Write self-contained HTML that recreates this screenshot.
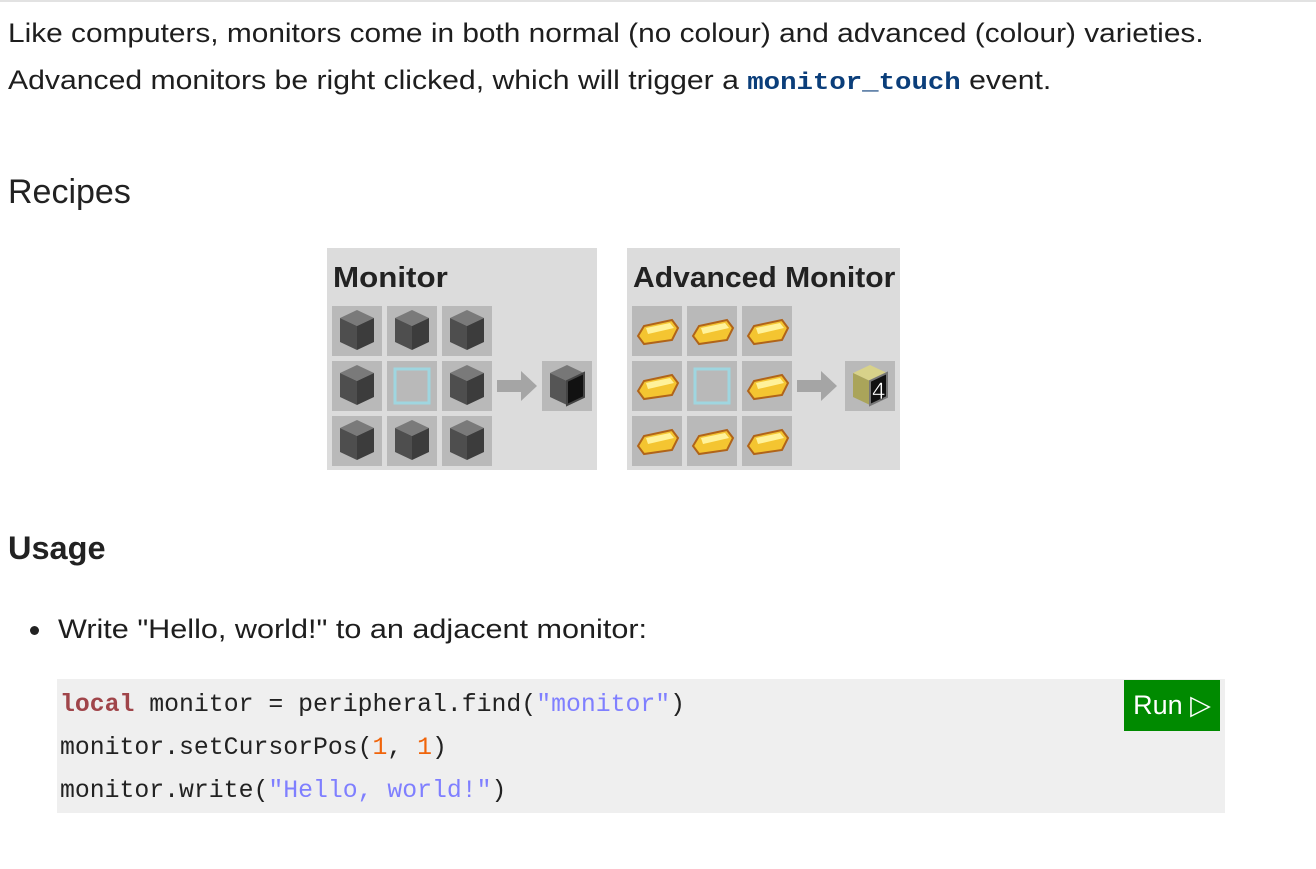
<!DOCTYPE html>
<html><head><meta charset="utf-8"><style>
body{margin:0;width:1316px;height:869px;background:#fff;position:relative;overflow:hidden;font-family:"Liberation Sans",sans-serif;color:#1e1e1e}
.a{position:absolute;white-space:nowrap}
.p{font-size:27px;transform-origin:0 0}
code{font-family:"Liberation Mono",monospace;font-weight:bold;color:#0b3e7a;font-size:24.5px}
.panel{position:absolute;background:#dcdcdc;height:222px;top:248px}
.t{position:absolute;font-weight:bold;font-size:29px;color:#222;top:262px;transform-origin:0 0;transform:scaleX(1.05);white-space:nowrap}
.code{position:absolute;left:57px;top:679px;width:1168px;height:134px;background:#efefef}
.cl{position:absolute;left:3px;font-family:"Liberation Mono",monospace;font-size:24.8px;color:#222;white-space:nowrap}
</style></head><body>
<div class="a" style="left:0;top:0;width:1316px;height:2px;background:#e2e2e2"></div>
<div class="a p" style="left:8px;top:18px;transform:scaleX(1.105)">Like computers, monitors come in both normal (no colour) and advanced (colour) varieties.</div>
<div class="a p" style="left:8px;top:65px;transform:scaleX(1.117)">Advanced monitors be right clicked, which will trigger a <code>monitor_touch</code> event.</div>
<div class="a" style="left:8px;top:173px;font-size:34px;color:#222">Recipes</div>

<div class="panel" style="left:327px;width:270px"></div>
<div class="panel" style="left:627px;width:273px"></div>
<div class="t" style="left:333px;transform:scaleX(1.08)">Monitor</div>
<div class="t" style="left:633px;transform:scaleX(1.037)">Advanced Monitor</div>

<svg class="a" style="left:0;top:0" width="1316" height="869">
<defs>
<g id="stone"><polygon points="25,4 42,12 25,20 8,12" fill="#7a7a7a"/><polygon points="8,12 25,20 25,44 8,36" fill="#4e4e4e"/><polygon points="25,20 42,12 42,36 25,44" fill="#3c3c3c"/></g>
<g id="gold"><polygon points="6,30 12,20 40,14 46,22 40,34 12,38" fill="#f4c531" stroke="#b0641a" stroke-width="2"/><polygon points="14,22 38,17 42,22 16,28" fill="#fff29a"/></g>
<g id="glass"><rect x="8" y="8" width="34" height="34" fill="none" stroke="#9fd6e0" stroke-width="3"/></g>
<g id="arr"><rect x="0" y="19" width="26" height="12" fill="#a5a5a5"/><polygon points="24,10 40,25 24,40" fill="#a5a5a5"/></g>
</defs>
<g fill="#b9b9b9">
<rect x="332" y="306" width="50" height="50"/><rect x="387" y="306" width="50" height="50"/><rect x="442" y="306" width="50" height="50"/>
<rect x="332" y="361" width="50" height="50"/><rect x="387" y="361" width="50" height="50"/><rect x="442" y="361" width="50" height="50"/>
<rect x="332" y="416" width="50" height="50"/><rect x="387" y="416" width="50" height="50"/><rect x="442" y="416" width="50" height="50"/>
<rect x="542" y="361" width="50" height="50"/>
<rect x="632" y="306" width="50" height="50"/><rect x="687" y="306" width="50" height="50"/><rect x="742" y="306" width="50" height="50"/>
<rect x="632" y="361" width="50" height="50"/><rect x="687" y="361" width="50" height="50"/><rect x="742" y="361" width="50" height="50"/>
<rect x="632" y="416" width="50" height="50"/><rect x="687" y="416" width="50" height="50"/><rect x="742" y="416" width="50" height="50"/>
<rect x="845" y="361" width="50" height="50"/>
</g>
<use href="#stone" x="332" y="306"/><use href="#stone" x="387" y="306"/><use href="#stone" x="442" y="306"/>
<use href="#stone" x="332" y="361"/><use href="#glass" x="387" y="361"/><use href="#stone" x="442" y="361"/>
<use href="#stone" x="332" y="416"/><use href="#stone" x="387" y="416"/><use href="#stone" x="442" y="416"/>
<use href="#arr" x="497" y="361"/>
<g transform="translate(542,361)"><polygon points="25,4 42,12 25,20 8,12" fill="#777"/><polygon points="8,12 25,20 25,44 8,36" fill="#555"/><polygon points="25,20 42,12 42,36 25,44" fill="#111" stroke="#444" stroke-width="2"/></g>
<use href="#gold" x="632" y="306"/><use href="#gold" x="687" y="306"/><use href="#gold" x="742" y="306"/>
<use href="#gold" x="632" y="361"/><use href="#glass" x="687" y="361"/><use href="#gold" x="742" y="361"/>
<use href="#gold" x="632" y="416"/><use href="#gold" x="687" y="416"/><use href="#gold" x="742" y="416"/>
<use href="#arr" x="797" y="361"/>
<g transform="translate(845,361)"><polygon points="25,4 42,12 25,20 8,12" fill="#d8d28a"/><polygon points="8,12 25,20 25,44 8,36" fill="#aaa45a"/><polygon points="25,20 42,12 42,36 25,44" fill="#111" stroke="#777" stroke-width="2"/>
<text x="27" y="38" font-family="Liberation Sans,sans-serif" font-size="24" fill="#fff" stroke="#000" stroke-width="0.5">4</text></g>
</svg>

<div class="a" style="left:8px;top:530px;font-size:32.5px;font-weight:bold;color:#222">Usage</div>
<div class="a" style="left:30px;top:626px;width:9px;height:9px;border-radius:50%;background:#222"></div>
<div class="a p" style="left:58px;top:614px;transform:scaleX(1.133)">Write "Hello, world!" to an adjacent monitor:</div>

<div class="code">
<div class="cl" style="top:12px"><b style="color:#a0454a">local</b> monitor = peripheral.find(<span style="color:#7f7fff">"monitor"</span>)</div>
<div class="cl" style="top:55px">monitor.setCursorPos(<span style="color:#f0640a">1</span>, <span style="color:#f0640a">1</span>)</div>
<div class="cl" style="top:98px">monitor.write(<span style="color:#7f7fff">"Hello, world!"</span>)</div>
<div class="a" style="left:1067px;top:1px;width:96px;height:51px;background:#008a00;color:#fff;font-size:27px;line-height:51px;text-align:center">Run ▷</div>
</div>
</body></html>
